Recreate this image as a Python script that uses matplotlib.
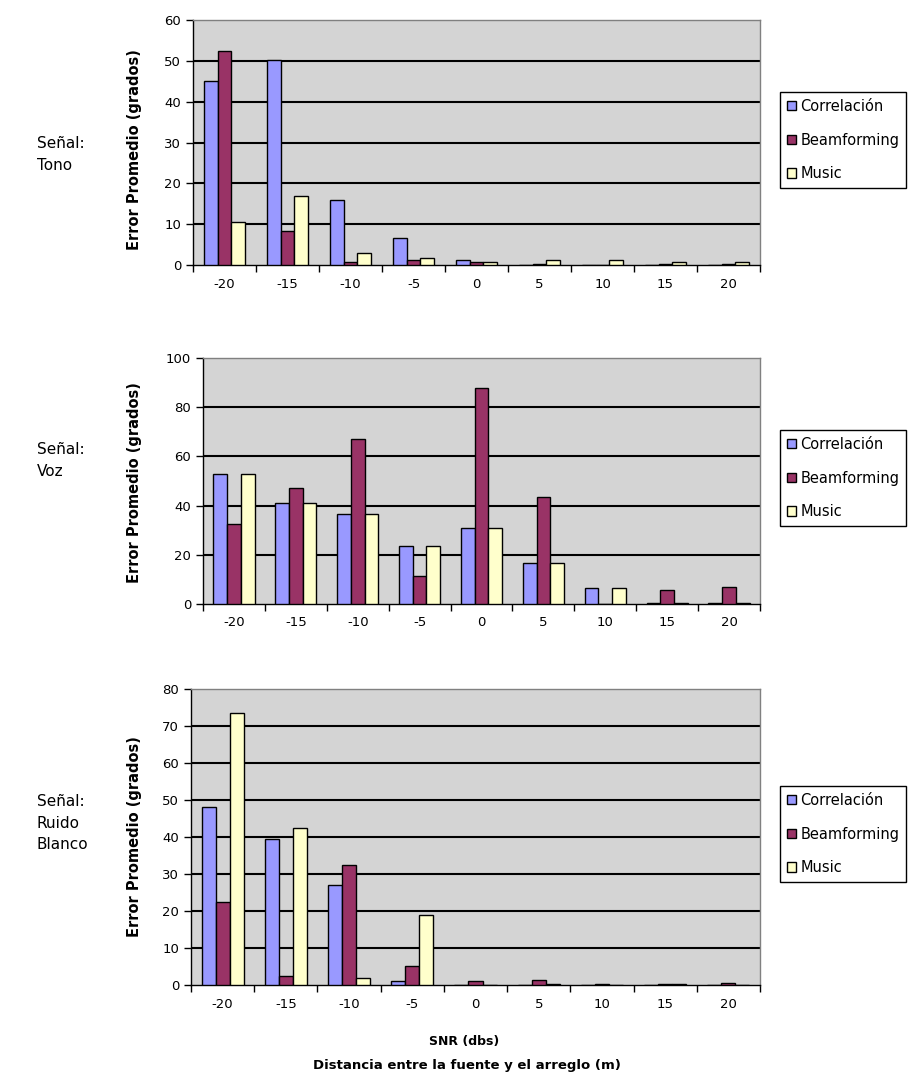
import numpy as np
import matplotlib.pyplot as plt
from matplotlib.patches import Patch

snr = ['-20', '-15', '-10', '-5', '0', '5', '10', '15', '20']
series = ['Correlación', 'Beamforming', 'Music']
colors = ['#9999FF', '#993366', '#FFFFCC']

# Señal: Tono
tono_corr = [45, 50.3, 16, 6.7, 1.2, 0, 0, 0, 0]
tono_beam = [52.5, 8.3, 0.8, 1.2, 0.8, 0.3, 0, 0.3, 0.3]
tono_music = [10.5, 17, 3, 1.6, 0.8, 1.2, 1.2, 0.8, 0.8]

# Señal: Voz
voz_corr = [53, 41, 36.5, 23.5, 31, 16.5, 6.5, 0.5, 0.5]
voz_beam = [32.5, 47, 67, 11.5, 88, 43.5, 0, 5.8, 7]
voz_music = [53, 41, 36.5, 23.5, 31, 16.5, 6.5, 0.5, 0.5]

# Señal: Ruido Blanco
ruido_corr = [48, 39.5, 27, 1, 0, 0, 0, 0, 0]
ruido_beam = [22.5, 2.3, 32.5, 5.2, 1, 1.3, 0.4, 0.4, 0.5]
ruido_music = [73.5, 42.5, 2, 19, 0, 0.4, 0, 0.4, 0]

W, H = 909, 1086
fig = plt.figure(figsize=(W / 100, H / 100), dpi=100)
plt.rcParams['font.family'] = 'DejaVu Sans'


def px(x0, y0, x1, y1):
    # pixel box -> figure fraction rect
    return [x0 / W, 1 - y1 / H, (x1 - x0) / W, (y1 - y0) / H]


def panel(rect, data, ymax, step, side, side_y, leg_top, ylab_y):
    ax = fig.add_axes(rect)
    ax.set_facecolor('#d4d4d4')
    x = np.arange(len(snr))
    w = 0.222
    for i, (vals, c) in enumerate(zip(data, colors)):
        ax.bar(x + (i - 1) * w, vals, w, color=c, edgecolor='black',
               linewidth=1, zorder=3)
    ax.set_xlim(-0.5, len(snr) - 0.5)
    ax.set_ylim(0, ymax)
    yt = np.arange(0, ymax + 1, step)
    ax.set_yticks(yt)
    for y in yt[1:-1]:
        ax.axhline(y, color='black', linewidth=1.5, zorder=1)
    ax.set_xticks(x)
    ax.set_xticklabels(snr)
    ax.set_xticks(np.arange(-0.5, len(snr), 1), minor=True)
    ax.tick_params(axis='x', which='major', length=0, pad=9, labelsize=9.5)
    ax.tick_params(axis='x', which='minor', length=5, width=1)
    ax.tick_params(axis='y', length=5, width=1, labelsize=9.5)
    for s in ['top', 'right']:
        ax.spines[s].set_color('#808080')
        ax.spines[s].set_linewidth(1)
    for s in ['left', 'bottom']:
        ax.spines[s].set_color('black')
        ax.spines[s].set_linewidth(1)

    fig.text(134 / W, 1 - ylab_y / H, 'Error Promedio (grados)', rotation=90,
             ha='center', va='center', fontsize=10.5, fontweight='bold')
    fig.text(37 / W, 1 - side_y / H, side, ha='left', va='top',
             fontsize=11, linespacing=1.55)

    handles = [Patch(facecolor=c, edgecolor='black', linewidth=1) for c in colors]
    fig.legend(handles, series, loc='upper left',
               bbox_to_anchor=(780 / W, 1 - leg_top / H), frameon=True,
               fancybox=False, edgecolor='black', framealpha=1,
               handlelength=0.65, handleheight=0.65, handletextpad=0.3,
               labelspacing=1.3, borderpad=0.45, borderaxespad=0,
               fontsize=10.5)
    return ax


panel(px(193, 20, 760, 265), [tono_corr, tono_beam, tono_music], 60, 10,
      'Señal:\nTono', 136, 92, 150)
panel(px(203, 358, 760, 604), [voz_corr, voz_beam, voz_music], 100, 20,
      'Señal:\nVoz', 442, 430, 483)
panel(px(191, 689, 760, 985), [ruido_corr, ruido_beam, ruido_music], 80, 10,
      'Señal:\nRuido\nBlanco', 794, 786, 837)

fig.text(464 / W, 1 - 1042 / H, 'SNR (dbs)', ha='center', va='center',
         fontsize=9, fontweight='bold')
fig.text(467 / W, 1 - 1066 / H, 'Distancia entre la fuente y el arreglo (m)',
         ha='center', va='center', fontsize=9.5, fontweight='bold')

fig.savefig('out.png', dpi=100, facecolor='white')
